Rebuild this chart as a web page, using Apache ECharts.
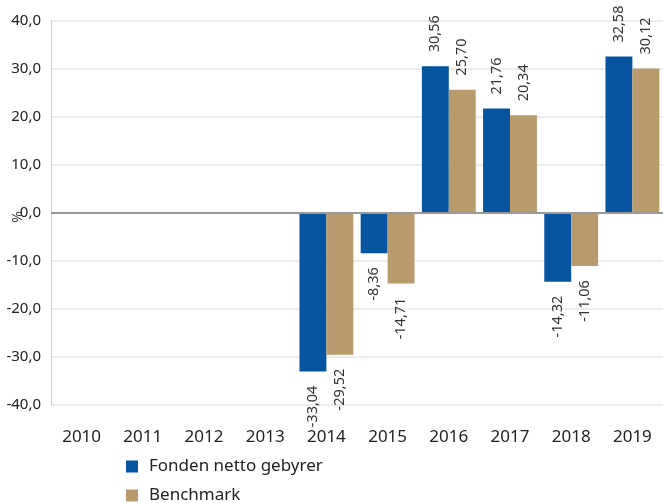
<!DOCTYPE html>
<html>
<head>
<meta charset="utf-8">
<script src="https://cdn.jsdelivr.net/npm/echarts@6/dist/echarts.min.js"></script>
<style>
  html, body { margin: 0; padding: 0; background: #fff; }
  #chart { width: 663px; height: 503px; }
</style>
</head>
<body>
<div id="chart"></div>
<script>
// data
const years = ['2010', '2011', '2012', '2013', '2014', '2015', '2016', '2017', '2018', '2019']
const fonden = [null, null, null, null, -33.04, -8.36, 30.56, 21.76, -14.32, 32.58]
const benchmark = [null, null, null, null, -29.52, -14.71, 25.70, 20.34, -11.06, 30.12]
const seriesNames = ['Fonden netto gebyrer', 'Benchmark']

const FONT = '"Noto Sans", sans-serif'
const fmt = (v, d) => v.toFixed(d).replace('.', ',')

// rotated labels: positives go up from the bar top, negatives hang below the bar
function withLabels(values) {
  return values.map((v) => {
    if (v == null) return null
    return {
      value: v,
      label: { align: v >= 0 ? 'left' : 'right' },
    }
  })
}

function barSeries(name, values, color) {
  return {
    name,
    type: 'bar',
    data: withLabels(values),
    barGap: '0%',
    barCategoryGap: '12%',
    itemStyle: { color },
    label: {
      show: true,
      position: 'outside',
      rotate: 90,
      distance: 14,
      verticalAlign: 'middle',
      color: '#333',
      fontFamily: FONT,
      fontSize: 14.5,
      formatter: (p) => fmt(p.value, 2),
    },
  }
}

// one legend per item so they stack vertically
function legendItem(name, top) {
  return {
    left: 121,
    top,
    itemWidth: 12,
    itemHeight: 12,
    icon: 'rect',
    textStyle: { fontFamily: FONT, fontSize: 17, color: '#222', padding: [0, 0, 0, 6] },
    data: [name],
  }
}

const chart = echarts.init(document.getElementById('chart'))
const series = [
  barSeries(seriesNames[0], fonden, '#0755a0'),
  barSeries(seriesNames[1], benchmark, '#b89a6c'),
]
// zero line
series[0].markLine = {
  silent: true,
  symbol: 'none',
  label: { show: false },
  lineStyle: { color: '#999', width: 2, type: 'solid' },
  data: [{ yAxis: 0 }],
}

chart.setOption({
  animation: false,
  textStyle: { fontFamily: FONT },
  grid: { left: 51, right: 0, top: 21, bottom: 98, containLabel: false, outerBoundsMode: 'none' },
  legend: [legendItem(seriesNames[0], 453), legendItem(seriesNames[1], 482)],
  xAxis: {
    type: 'category',
    data: years,
    axisLine: { show: false },
    axisTick: { show: false },
    axisLabel: { margin: 24, fontSize: 17, color: '#222', fontFamily: FONT },
  },
  yAxis: {
    type: 'value',
    min: -40,
    max: 40,
    interval: 10,
    name: '%',
    nameLocation: 'middle',
    nameRotate: 90,
    nameGap: 26,
    nameMoveOverlap: false,
    nameTextStyle: { fontSize: 14, color: '#333', fontFamily: FONT, padding: [0, 8, 0, 0] },
    axisLine: { show: true, lineStyle: { color: '#ccc' } },
    axisTick: { show: false },
    axisLabel: {
      margin: 10,
      fontSize: 15,
      color: '#222',
      fontFamily: FONT,
      formatter: (v) => fmt(v, 1),
    },
    splitLine: { lineStyle: { color: '#e6e6e6', width: 1.5 } },
  },
  series,
})
</script>
</body>
</html>
